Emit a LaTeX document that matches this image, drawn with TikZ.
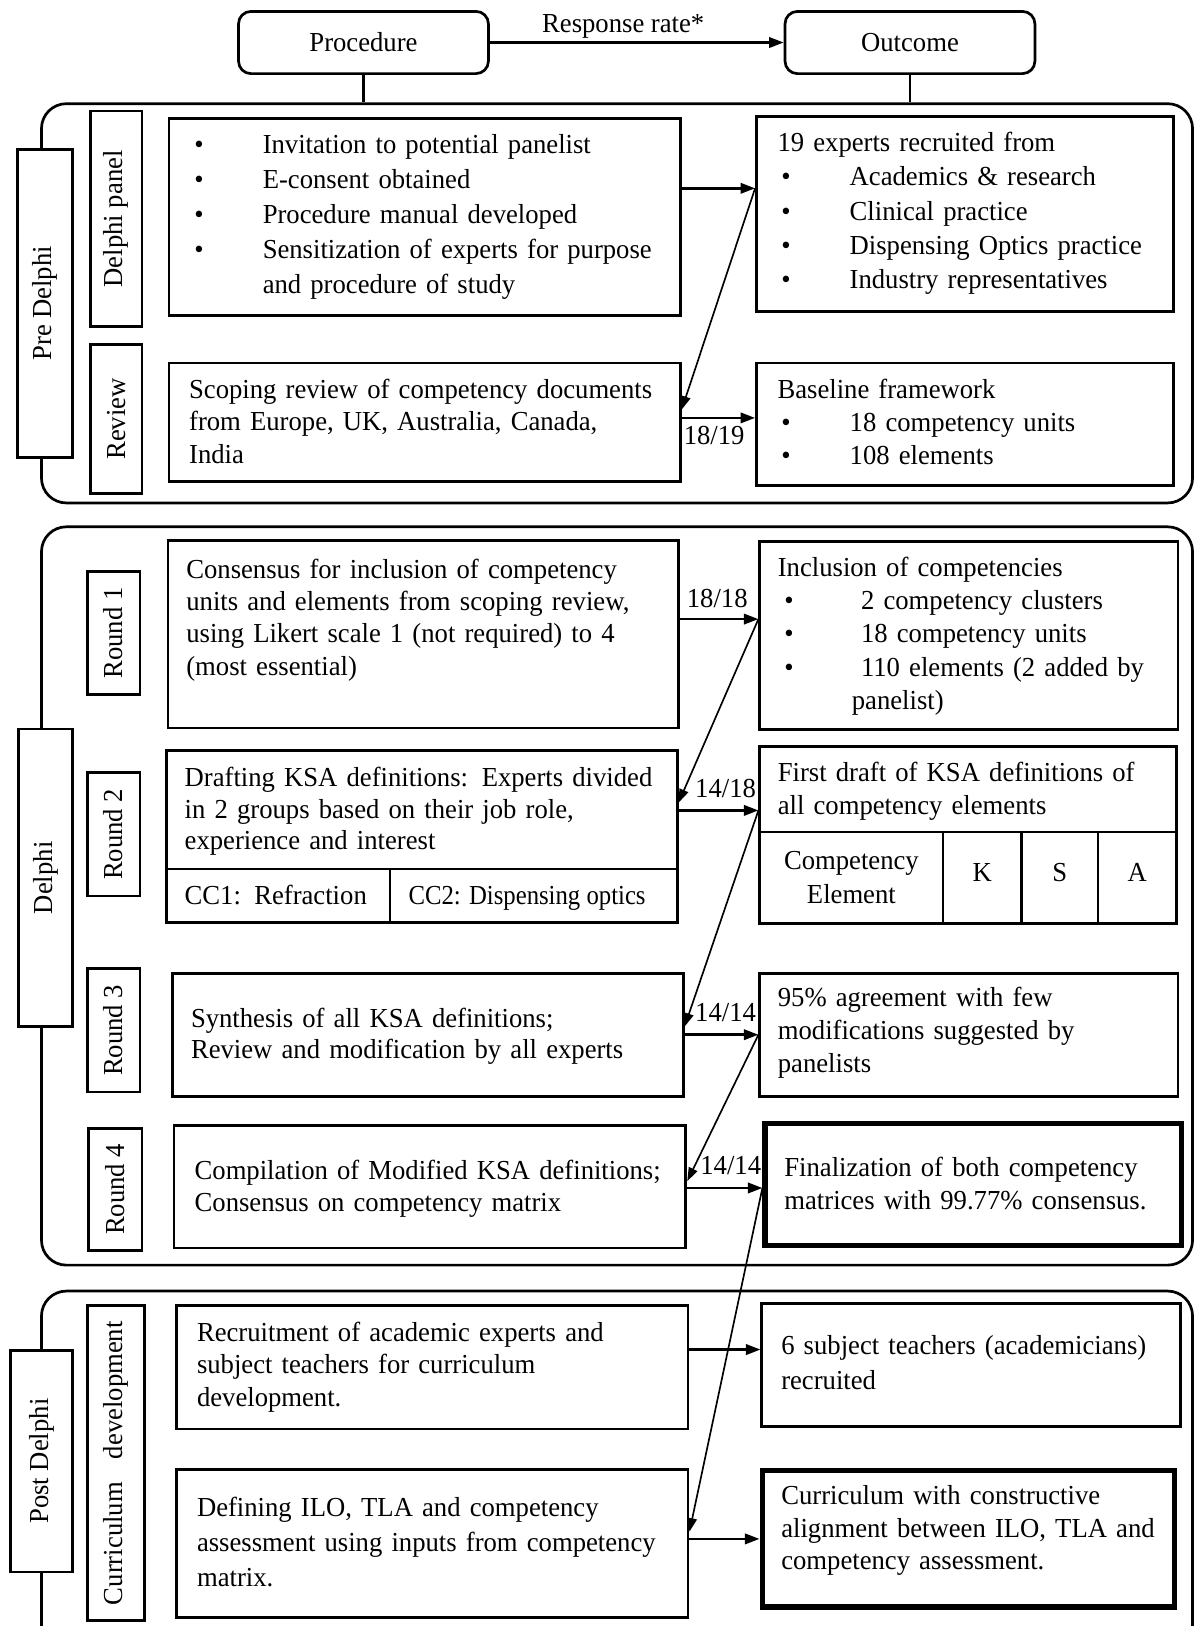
\documentclass[tikz,border=0pt]{standalone}
\usepackage{fontspec}
\setmainfont{Liberation Serif}[FakeStretch=0.97]
\newfontfamily\condfont{Liberation Serif}[FakeStretch=0.9]
\usetikzlibrary{arrows.meta,fit}
\newcommand\fsz{\fontsize{13.25pt}{16pt}\selectfont}
\newcommand\bul[1][33pt]{\makebox[#1][l]{\textbullet}}
\tikzset{
  box/.style={draw, line width=1.35pt, inner sep=0pt},
  thickbox/.style={draw, line width=2.5pt, inner sep=0pt},
  grp/.style={draw, line width=1.3pt, inner sep=0pt, rounded corners=12pt},
  lbl/.style={draw, fill=white, line width=1.35pt, inner sep=0pt},
  lbltxt/.style={rotate=90, inner sep=0pt, font=\fsz},
  tbox/.style={draw, line width=1.3pt, rounded corners=6pt, minimum width=120.5pt, minimum height=30pt, inner sep=0pt, font=\fsz},
  txt/.style={inner sep=0pt, anchor=base west, align=left, text width=250pt, font=\fontsize{13.25pt}{#1}\selectfont},
  txt/.default=16pt,
  rlab/.style={inner sep=0pt, anchor=base west, font=\fsz},
  arr/.style={line width=1.2pt, -{Triangle[length=7pt,width=5pt]}},
  diag/.style={line width=0.8pt, -{Triangle[length=6.5pt,width=4.5pt]}},
  plain/.style={line width=1.3pt}
}
\begin{document}
\begin{tikzpicture}[x=0.5pt,y=-0.5pt,font=\fsz]
\clip (0,0) rectangle (1152,1568);
\fill[white] (0,0) rectangle (1152,1568);

% group frames
\node[grp, fit={(40,100) (1150,485)}] (pre) {};
\node[grp, fit={(40,508) (1150,1220)}] (del) {};
\node[grp, fit={(40,1245) (1150,1640)}] (post) {};

% header
\node[tbox] (proc) at (350.5,41) {Procedure};
\node[tbox] (outc) at (877.5,41) {Outcome};
\draw[arr] (proc) -- (outc);
\node[inner sep=0pt, anchor=base] (rr) at (601,31.5) {Response rate*};
\draw[plain] (proc.south) -- (proc.south |- pre.north);
\draw[plain] (outc.south) -- (outc.south |- pre.north);

% side labels
\node[lbl, fit={(17,144) (70,441)}] (preL) {};
\node[lbltxt] (preLt) at (preL.center) {Pre Delphi};
\node[lbl, fit={(87,107) (137,315)}] (panL) {};
\node[lbltxt] (panLt) at (panL.center) {Delphi panel};
\node[lbl, fit={(87,332) (137,476)}] (revL) {};
\node[lbltxt] (revLt) at (revL.center) {Review};
\node[lbl, fit={(18,703) (70,990)}] (delL) {};
\node[lbltxt] (delLt) at (delL.center) {Delphi};
\node[lbl, fit={(84,551) (135,670)}] (r1L) {};
\node[lbltxt] (r1Lt) at (r1L.center) {Round 1};
\node[lbl, fit={(84,745) (135,864)}] (r2L) {};
\node[lbltxt] (r2Lt) at (r2L.center) {Round 2};
\node[lbl, fit={(84,934) (135,1053)}] (r3L) {};
\node[lbltxt] (r3Lt) at (r3L.center) {Round 3};
\node[lbl, fit={(85,1088) (137,1206)}] (r4L) {};
\node[lbltxt] (r4Lt) at (r4L.center) {Round 4};
\node[lbl, fit={(10,1302) (70,1516)}] (postL) {};
\node[lbltxt] (postLt) at (postL.center) {Post Delphi};
\node[lbl, fit={(84,1259) (139,1563)}] (curL) {};
\node[lbltxt] (curLt) at (curL.center) {Curriculum\hspace{0.6em} development};

% ---------- Pre Delphi ----------
\node[box, fit={(163,114) (656,304)}] (p1) {};
\node[txt=16.8pt] (p1t) at (187,148.5) {\bul Invitation to potential panelist\\
\bul E-consent obtained\\
\bul Procedure manual developed\\
\bul Sensitization of experts for purpose\\
\hspace*{33pt}and procedure of study};

\node[box, fit={(729.5,112.5) (1132,300.5)}] (o1) {};
\node[txt=16.5pt] (o1t) at (749.4,146.2) {19 experts recruited from\\
\hspace*{1.8pt}\bul Academics \& research\\
\hspace*{1.8pt}\bul Clinical practice\\
\hspace*{1.8pt}\bul Dispensing Optics practice\\
\hspace*{1.8pt}\bul Industry representatives};

\node[box, fit={(163,350) (656,464)}] (p2) {};
\node[txt=15.8pt] (p2t) at (182,384) {Scoping review of competency documents\\
from Europe, UK, Australia, Canada,\\
India};

\node[box, fit={(729.5,350) (1132,468.5)}] (o2) {};
\node[txt=16pt] (o2t) at (749.4,384) {Baseline framework\\
\hspace*{1.8pt}\bul 18 competency units\\
\hspace*{1.8pt}\bul 108 elements};

% ---------- Delphi ----------
\node[box, fit={(162,521.5) (654,702)}] (pr1) {};
\node[txt=15.6pt] (pr1t) at (179.3,557.5) {Consensus for inclusion of competency\\
units and elements from scoping review,\\
using Likert scale 1 (not required) to 4\\
(most essential)};

\node[box, fit={(732.7,522) (1136,703.7)}] (or1) {};
\node[txt=16pt] (or1t) at (749.7,556) {Inclusion of competencies\\
\hspace*{3.2pt}\bul[32.5pt] 2 competency clusters\\
\hspace*{3.2pt}\bul[32.5pt] 18 competency units\\
\hspace*{3.2pt}\bul[32.5pt] 110 elements (2 added by\\
\hspace*{35.7pt}panelist)};

\node[box, fit={(160.7,723.5) (653,838)}] (pr2) {};
\node[txt=15.3pt] (pr2t) at (177.7,758.4) {Drafting KSA definitions: Experts divided\\
in 2 groups based on their job role,\\
experience and interest};
\node[box, fit={(160.7,838) (376,889.5)}] (cc1) {};
\node[rlab] (cc1t) at (177.7,872.5) {CC1:\ \ Refraction};
\node[box, fit={(376,838) (653,889.5)}] (cc2) {};
\node[rlab, font=\condfont\fsz] (cc2t) at (393.6,872.5) {CC2: Dispensing optics};

\node[box, fit={(732.7,720) (1134.4,802.4)}] (or2) {};
\node[txt=16pt] (or2t) at (749.7,753.6) {First draft of KSA definitions of\\
all competency elements};
\node[box, fit={(732.7,802.4) (909.4,890.8)}] (ce) {};
\node[inner sep=0pt, anchor=base, align=center, text width=80pt, font=\fontsize{13.25pt}{16.1pt}\selectfont] (cet) at (821,838.7) {Competency\\Element};
\node[box, fit={(909.4,802.4) (985,890.8)}] (kc) {};
\node[inner sep=0pt, anchor=base] (kt) at (947.2,850) {K};
\node[box, fit={(985,802.4) (1058.8,890.8)}] (sc) {};
\node[inner sep=0pt, anchor=base] (st) at (1021.9,850) {S};
\node[box, fit={(1058.8,802.4) (1134.4,890.8)}] (ac) {};
\node[inner sep=0pt, anchor=base] (at) at (1096.6,850) {A};

\node[box, fit={(166.5,938.4) (658.8,1057.2)}] (pr3) {};
\node[txt=15.3pt] (pr3t) at (183.8,990.4) {Synthesis of all KSA definitions;\\
Review and modification by all experts};

\node[box, fit={(732.7,938.4) (1136,1057.2)}] (or3) {};
\node[txt=15.9pt] (or3t) at (749.7,970.5) {95\% agreement with few\\
modifications suggested by\\
panelists};

\node[box, fit={(167.8,1085.2) (661.4,1203.4)}] (pr4) {};
\node[txt=15.5pt] (pr4t) at (187.3,1137) {Compilation of Modified KSA definitions;\\
Consensus on competency matrix};

\node[thickbox, fit={(737.7,1083.7) (1139,1201)}] (or4) {};
\node[txt=16.1pt] (or4t) at (756,1134.3) {Finalization of both competency\\
matrices with 99.77\% consensus.};

% ---------- Post Delphi ----------
\node[box, fit={(170.5,1259) (663.5,1378)}] (pd1) {};
\node[txt=15.7pt] (pd1t) at (189.6,1293.4) {Recruitment of academic experts and\\
subject teachers for curriculum\\
development.};

\node[box, fit={(734.7,1257) (1138.6,1375.4)}] (od1) {};
\node[txt=16.85pt] (od1t) at (753,1306.3) {6 subject teachers (academicians)\\
recruited};

\node[box, fit={(170.5,1417) (663.5,1560)}] (pd2) {};
\node[txt=16.9pt] (pd2t) at (189.6,1462) {Defining ILO, TLA and competency\\
assessment using inputs from competency\\
matrix.};

\node[thickbox, fit={(734.9,1417.9) (1132.6,1549.6)}] (od2) {};
\node[txt=15.7pt] (od2t) at (753,1450.8) {Curriculum with constructive\\
alignment between ILO, TLA and\\
competency assessment.};

% ---------- arrow levels ----------
\coordinate (ya) at (0,181.6);
\coordinate (yb) at (0,403);
\coordinate (yc) at (0,597);
\coordinate (yd) at (0,781.5);
\coordinate (ye) at (0,997.8);
\coordinate (yf) at (0,1145.6);
\coordinate (yg) at (0,1301.4);
\coordinate (yh) at (0,1484);
\coordinate (da) at (0,395);
\coordinate (dc) at (0,774);
\coordinate (dd) at (0,990);
\coordinate (de) at (0,1139);
\coordinate (df) at (0,1477);

\draw[arr] (p1.east |- ya) -- (o1.west |- ya);
\draw[arr] (p2.east |- yb) -- (o2.west |- yb);
\draw[arr] (pr1.east |- yc) -- (or1.west |- yc);
\draw[arr] (pr2.east |- yd) -- (or2.west |- yd);
\draw[arr] (pr3.east |- ye) -- (or3.west |- ye);
\draw[arr] (pr4.east |- yf) -- (or4.west |- yf);
\draw[arr] (pd1.east |- yg) -- (od1.west |- yg);
\draw[arr] (pd2.east |- yh) -- (od2.west |- yh);

\draw[diag] (o1.west |- ya) -- (p2.east |- da);
\draw[diag] (or1.west |- yc) -- (pr2.east |- dc);
\draw[diag] (or2.west |- yd) -- (pr3.east |- dd);
\draw[diag] (or3.west |- ye) -- (pr4.east |- de);
\draw[diag] (or4.west |- yf) -- (pd2.east |- df);

% response counts
\node[rlab] (n1) at (659,429) {18/19};
\node[rlab] (n2) at (662,585.5) {18/18};
\node[rlab] (n3) at (670,768.7) {14/18};
\node[rlab] (n4) at (670,985) {14/14};
\node[rlab] (n5) at (675,1132.7) {14/14};
\end{tikzpicture}
\end{document}
